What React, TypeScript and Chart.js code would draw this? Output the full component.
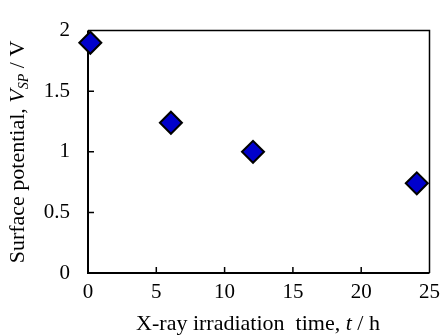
import React, { useEffect, useRef } from "react";
import { Chart, registerables } from "chart.js";

Chart.register(...registerables);

const timeHours = [0.17, 6.07, 12.08, 24.07];
const surfacePotential = [1.9, 1.24, 1.0, 0.74];
const xTicks = [0, 5, 10, 15, 20, 25];
const yTicks = [0, 0.5, 1, 1.5, 2];

const FONT = "'Liberation Serif', 'Times New Roman', serif";
const TICK_SIZE = 21;
const TITLE_SIZE = 22;

function drawSegments(ctx: CanvasRenderingContext2D, segs: { t: string; italic?: boolean; sub?: boolean }[], size: number) {
  const fontFor = (s: { italic?: boolean; sub?: boolean }) =>
    `${s.italic ? "italic " : ""}${s.sub ? Math.round(size * 0.65) : size}px ${FONT}`;
  let total = 0;
  const widths = segs.map((s) => {
    ctx.font = fontFor(s);
    const w = ctx.measureText(s.t).width;
    total += w;
    return w;
  });
  let x = -total / 2;
  ctx.textAlign = "left";
  ctx.textBaseline = "middle";
  segs.forEach((s, i) => {
    ctx.font = fontFor(s);
    ctx.fillText(s.t, x, s.sub ? size * 0.3 : 0);
    x += widths[i];
  });
}

const framePlugin = {
  id: "frameTicks",
  beforeDatasetsDraw(chart: any) {
    const { ctx, chartArea } = chart;
    const { left, right, top, bottom } = chartArea;
    const xs = chart.scales.x;
    const ys = chart.scales.y;
    ctx.save();
    ctx.strokeStyle = "#000";
    ctx.lineWidth = 1.5;
    ctx.beginPath();
    ctx.moveTo(left, top);
    ctx.lineTo(right, top);
    ctx.lineTo(right, bottom);
    ctx.stroke();
    ctx.lineWidth = 1.5;
    ctx.beginPath();
    xTicks.slice(1, -1).forEach((v) => {
      const px = xs.getPixelForValue(v);
      ctx.moveTo(px, bottom);
      ctx.lineTo(px, bottom - 6);
    });
    yTicks.slice(1, -1).forEach((v) => {
      const py = ys.getPixelForValue(v);
      ctx.moveTo(left, py);
      ctx.lineTo(left + 6, py);
    });
    ctx.stroke();
    ctx.lineWidth = 2;
    ctx.beginPath();
    ctx.moveTo(left, top);
    ctx.lineTo(left, bottom);
    ctx.lineTo(right, bottom);
    ctx.stroke();
    ctx.restore();
  },
  afterDraw(chart: any) {
    const { ctx } = chart;
    ctx.save();
    ctx.fillStyle = "#000";
    ctx.translate(258, 324);
    drawSegments(ctx, [{ t: "X-ray irradiation  time, " }, { t: "t", italic: true }, { t: " / h" }], TITLE_SIZE);
    ctx.restore();
    ctx.save();
    ctx.fillStyle = "#000";
    ctx.translate(18, 152);
    ctx.rotate(-Math.PI / 2);
    drawSegments(
      ctx,
      [{ t: "Surface potential, " }, { t: "V", italic: true }, { t: "SP", italic: true, sub: true }, { t: " / V" }],
      TITLE_SIZE
    );
    ctx.restore();
  },
};

export default function App() {
  const ref = useRef<HTMLCanvasElement>(null);
  useEffect(() => {
    document.body.style.margin = "0";
    const chart = new Chart(ref.current!, {
      type: "scatter",
      data: {
        datasets: [
          {
            data: timeHours.map((x, i) => ({ x, y: surfacePotential[i] })),
            pointStyle: "rectRot",
            pointRadius: 11,
            pointHoverRadius: 11,
            backgroundColor: "#0000CC",
            borderColor: "#000",
            borderWidth: 2,
            clip: false,
          } as any,
        ],
      },
      options: {
        responsive: false,
        animation: false,
        events: [],
        layout: { padding: { top: 22, right: 10, left: 0, bottom: 0 } },
        plugins: { legend: { display: false }, tooltip: { enabled: false } },
        scales: {
          x: {
            type: "linear",
            min: 0,
            max: 25,
            afterBuildTicks: (s: any) => {
              s.ticks = xTicks.map((v) => ({ value: v }));
            },
            afterFit: (s: any) => {
              s.height = 63;
            },
            grid: { display: false, drawTicks: false },
            border: { display: false },
            ticks: {
              color: "#000",
              font: { family: FONT, size: TICK_SIZE },
              padding: 7,
              maxRotation: 0,
              callback: (v: any) => String(v),
            },
          },
          y: {
            type: "linear",
            min: 0,
            max: 2,
            afterBuildTicks: (s: any) => {
              s.ticks = yTicks.map((v) => ({ value: v }));
            },
            afterFit: (s: any) => {
              s.width = 88;
            },
            grid: { display: false, drawTicks: false },
            border: { display: false },
            ticks: {
              color: "#000",
              font: { family: FONT, size: TICK_SIZE },
              padding: 18,
              callback: (v: any) => String(v),
            },
          },
        },
      },
      plugins: [framePlugin],
    });
    return () => chart.destroy();
  }, []);
  return (
    <div style={{ width: 447, height: 336 }}>
      <canvas ref={ref} width={447} height={336} style={{ display: "block" }} />
    </div>
  );
}
